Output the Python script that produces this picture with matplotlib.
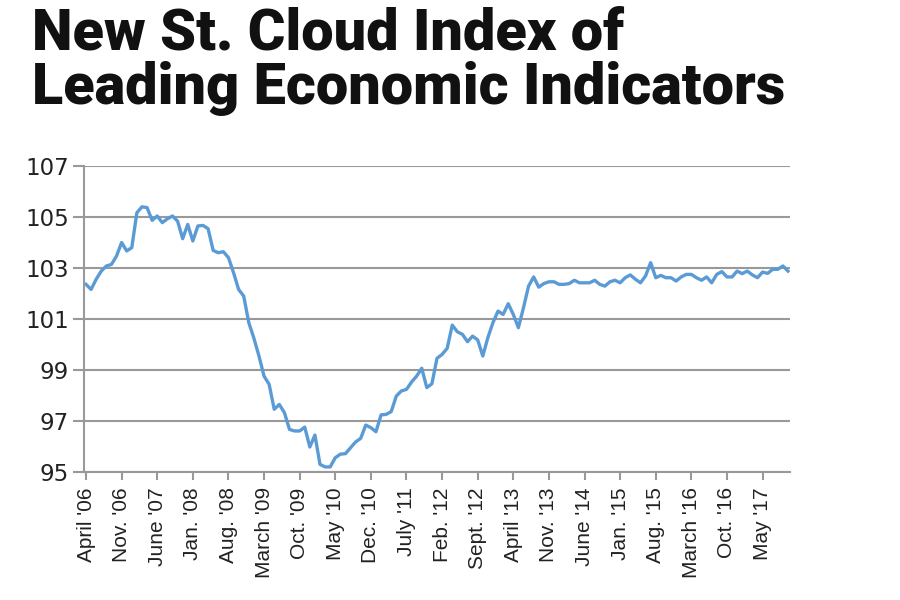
import numpy as np
import matplotlib
matplotlib.use("Agg")
from matplotlib import pyplot as plt

# monthly index values, April 2006 -> October 2017
index_values = [
    102.36, 102.16, 102.56, 102.88, 103.08, 103.14, 103.47, 104.00, 103.67, 103.80,
    105.17, 105.40, 105.37, 104.87, 105.04, 104.78, 104.93, 105.04, 104.84, 104.15,
    104.71, 104.06, 104.65, 104.67, 104.54, 103.69, 103.60, 103.64, 103.41, 102.82,
    102.16, 101.90, 100.86, 100.25, 99.55, 98.76, 98.44, 97.46, 97.65, 97.33,
    96.67, 96.61, 96.61, 96.76, 95.98, 96.45, 95.30, 95.20, 95.20, 95.56,
    95.70, 95.72, 95.95, 96.18, 96.32, 96.84, 96.74, 96.58, 97.24, 97.26,
    97.37, 97.98, 98.18, 98.24, 98.53, 98.76, 99.07, 98.31, 98.46, 99.46,
    99.61, 99.85, 100.76, 100.50, 100.40, 100.11, 100.33, 100.18, 99.55, 100.27,
    100.86, 101.31, 101.18, 101.60, 101.18, 100.66, 101.44, 102.29, 102.65, 102.25,
    102.39, 102.46, 102.46, 102.36, 102.36, 102.39, 102.52, 102.42, 102.42, 102.42,
    102.52, 102.36, 102.29, 102.46, 102.52, 102.42, 102.62, 102.73, 102.56, 102.42,
    102.69, 103.21, 102.62, 102.71, 102.62, 102.62, 102.49, 102.65, 102.75, 102.75,
    102.62, 102.52, 102.65, 102.42, 102.75, 102.86, 102.65, 102.65, 102.88, 102.78,
    102.88, 102.73, 102.62, 102.84, 102.79, 102.95, 102.95, 103.08, 102.88,
]

tick_labels = ["April '06", "Nov. '06", "June '07", "Jan. '08", "Aug. '08",
               "March '09", "Oct. '09", "May '10", "Dec. '10", "July '11",
               "Feb. '12", "Sept. '12", "April '13", "Nov. '13", "June '14",
               "Jan. '15", "Aug. '15", "March '16", "Oct. '16", "May '17"]

y_ticks = [95, 97, 99, 101, 103, 105, 107]

fig = plt.figure(figsize=(9, 6), dpi=100)
ax = fig.add_axes([0.0933, 0.2133, 0.7845, 0.51])

months = np.arange(len(index_values))
ax.plot(months, index_values, color="#5b9bd5", linewidth=2.4, solid_joinstyle="round")

ax.set_ylim(95, 107)
ax.set_xlim(-0.4, len(index_values) - 0.6)
ax.set_yticks(y_ticks)
ax.set_yticklabels([str(v) for v in y_ticks], fontsize=16.5, color="#222222")
ax.set_xticks(np.arange(len(tick_labels)) * 7)
ax.set_xticklabels(tick_labels, rotation=90, fontsize=15, color="#222222",
                   family="Liberation Sans", va="top")

ax.grid(axis="y", color="#999999", linewidth=1.5)
ax.set_axisbelow(True)
for side in ["top", "right"]:
    ax.spines[side].set_visible(False)
for side in ["left", "bottom"]:
    ax.spines[side].set_color("#999999")
    ax.spines[side].set_linewidth(1.5)
ax.tick_params(axis="y", length=8, width=1.5, color="#999999", pad=3)
ax.tick_params(axis="x", length=6, width=1.5, color="#999999", pad=5)

fig.text(0.035, 0.99, "New St. Cloud Index of\nLeading Economic Indicators",
         fontsize=41.5, fontweight="heavy", family="Roboto", color="#111111",
         va="top", ha="left", linespacing=1.0)

fig.savefig("out.png", dpi=100, facecolor="white")
